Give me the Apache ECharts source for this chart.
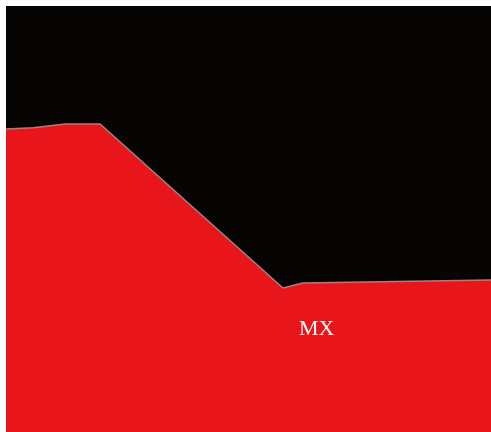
<!DOCTYPE html>
<html>
<head>
<meta charset="utf-8">
<style>
  html, body { margin: 0; padding: 0; background: #fff; }
  #chart { width: 491px; height: 432px; }
</style>
<script src="https://cdn.jsdelivr.net/npm/echarts@6/dist/echarts.min.js"></script>
</head>
<body>
<div id="chart"></div>
<script>
// boundary of the red area, [x, y] in percent of the panel
const xValues = [0, 5.6, 12.2, 19.4, 57.1, 61.2, 100]
const yValues = [71.1, 71.4, 72.3, 72.3, 33.8, 35.0, 35.7]
const labelText = 'MX'

const chart = echarts.init(document.getElementById('chart'))

const option = {
  animation: false,
  backgroundColor: '#ffffff',
  grid: { left: 6, top: 6, right: 0, bottom: 0, show: true, backgroundColor: '#070404', borderWidth: 0 },
  xAxis: { type: 'value', min: 0, max: 100, show: false },
  yAxis: { type: 'value', min: 0, max: 100, show: false },
  title: {
    text: labelText,
    left: 294,
    top: 313,
    textStyle: { color: '#ffffff', fontFamily: 'Liberation Serif', fontWeight: 'normal', fontSize: 22 }
  },
  series: [
    {
      type: 'line',
      data: xValues.map((x, i) => [x, yValues[i]]),
      symbol: 'none',
      lineStyle: { color: '#9a8585', width: 1.5 },
      areaStyle: { color: '#e8161b', opacity: 1, origin: 'start' }
    }
  ]
}

chart.setOption(option)
</script>
</body>
</html>
